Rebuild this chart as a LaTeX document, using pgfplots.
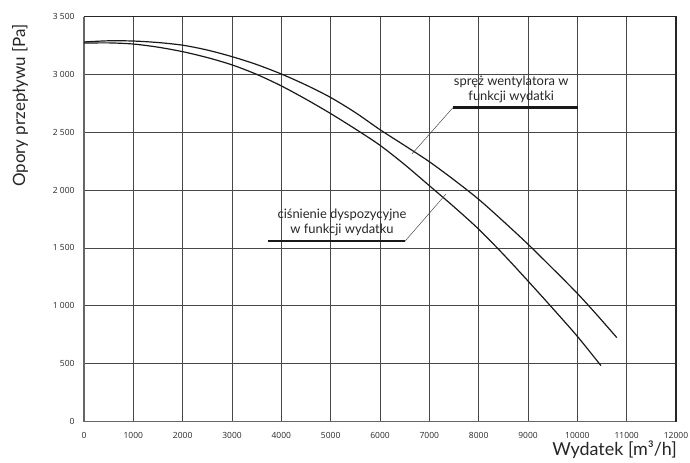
\documentclass[border=0pt]{standalone}
\usepackage{pgfplots}
\pgfplotsset{compat=1.18}
\usepackage{fontspec}
\setmainfont{Lato}
\newfontfamily\tickfont{Open Sans}
\begin{document}
\begin{tikzpicture}
\begin{axis}[
  at={(0,0)}, anchor=south west,
  scale only axis, width=592bp, height=405bp,
  xmin=0, xmax=12000, ymin=0, ymax=3500,
  scaled x ticks=false, scaled y ticks=false,
  xtick={0,1000,...,12000}, ytick={0,500,...,3500},
  xticklabels={0,1000,2000,3000,4000,5000,6000,7000,8000,9000,10000,11000,12000},
  yticklabels={0,500,1 000,1 500,2 000,2 500,3 000,3 500},
  grid=major, grid style={line width=0.8bp, color=black!72},
  axis line style={draw=none},
  tick style={draw=none},
  ticklabel style={font=\tickfont\fontsize{8.5}{10}\selectfont, text=black!85},
  xticklabel style={yshift=-7bp},
  yticklabel style={xshift=-6bp},
  clip=false,
]
\draw[line width=1.6bp, black!60] (rel axis cs:0,1) -- (rel axis cs:0,0) -- (rel axis cs:1,0);
\draw[line width=1.6bp, black!85] (rel axis cs:0,1) -- (rel axis cs:1,1) -- (rel axis cs:1,0);

\addplot[smooth, black!90, line width=1.2bp] coordinates {
(0,3280) (500,3290) (1000,3288) (1500,3275) (2000,3252) (2500,3210) (3000,3153) (3500,3085)
(4000,3003) (4500,2908) (5000,2800) (5500,2670) (6000,2522) (6500,2385) (7000,2245)
(7500,2088) (8000,1920) (8500,1730) (9000,1532) (9500,1322) (10000,1107) (10400,920) (10800,725)};

\addplot[smooth, black!90, line width=1.2bp] coordinates {
(0,3270) (500,3272) (1000,3262) (1500,3235) (2000,3196) (2500,3145) (3000,3082) (3500,3000)
(4000,2900) (4500,2785) (5000,2661) (5500,2528) (6000,2387) (6500,2220) (7000,2038)
(7500,1855) (8000,1662) (8500,1445) (9000,1214) (9500,978) (10000,736) (10480,482)};

% annotation: upper curve
\draw[line width=0.5bp, black!70] (axis cs:6649,2313) -- (axis cs:7480,2713);
\draw[line width=2.2bp, black!90] (axis cs:7480,2713) -- (axis cs:10014,2713);
\node[align=center, anchor=south, inner sep=0pt, font=\fontsize{13}{15}\selectfont, text=black!85]
  at (axis cs:8660,2755) {spręż wentylatora w\\funkcji wydatki};

% annotation: lower curve
\draw[line width=0.5bp, black!70] (axis cs:7338,1966) -- (axis cs:6507,1558);
\draw[line width=2.2bp, black!90] (axis cs:3730,1558) -- (axis cs:6507,1558);
\node[align=center, anchor=south, inner sep=0pt, font=\fontsize{13}{15}\selectfont, text=black!85]
  at (axis cs:5230,1600) {ciśnienie dyspozycyjne\\w funkcji wydatku};

% axis labels
\node[rotate=90, anchor=center, font=\fontsize{17}{19}\selectfont, text=black!85]
  at ([xshift=-64bp, yshift=-89bp]rel axis cs:0,1) {Opory przepływu [Pa]};
\node[anchor=base east, font=\fontsize{18}{20}\selectfont, text=black!85, inner sep=0pt]
  at ([xshift=1bp, yshift=-34bp]rel axis cs:1,0) {Wydatek [m³/h]};
\end{axis}
\pgfresetboundingbox
\useasboundingbox (-84bp,-41.5bp) rectangle (606bp,421.5bp);
\end{tikzpicture}
\end{document}
